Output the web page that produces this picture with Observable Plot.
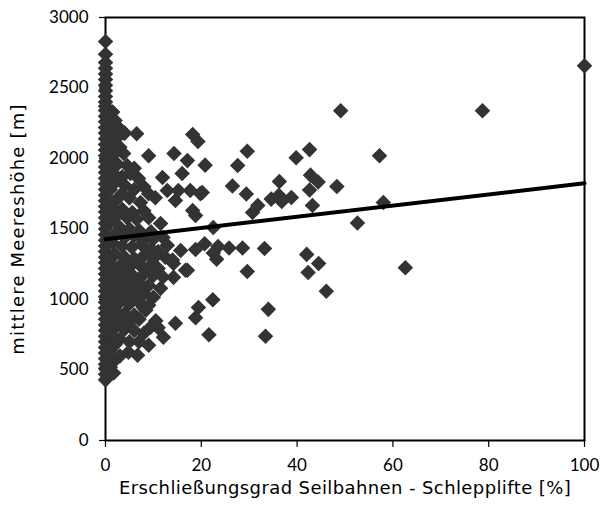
<!DOCTYPE html>
<html><head><meta charset="utf-8">
<script src="https://cdn.jsdelivr.net/npm/d3@7"></script>
<script src="https://cdn.jsdelivr.net/npm/@observablehq/plot@0.6"></script>
<style>body{margin:0;background:#fff}</style>
</head><body><div id="chart"></div>
<script>
// Tick labels and axis titles
const xTicks = [0, 20, 40, 60, 80, 100];
const yTicks = [0, 500, 1000, 1500, 2000, 2500, 3000];
const xTitle = "Erschließungsgrad Seilbahnen - Schlepplifte [%]";
const yTitle = "mittlere Meereshöhe [m]";

// Resorts with 0 % share (elevation in m)
const saeuleHoehe = [430,470,510,540,580,620,660,700,740,780,820,860,900,940,980,1020,1060,1100,1140,1180,1220,1260,1300,1340,1380,1420,1460,1500,1540,1580,1620,1660,1700,1740,1780,1820,1860,1900,1940,1980,2020,2060,2100,2140,2180,2220,2260,2300,2340,2370,2400,2440,2480,2520,2560,2600,2640,2680,2740,2830];

// Dense core [share %, elevation m]
const kern = [
[1.5,2330],[2,2270],[1,2200],[3,2210],[2.5,2150],[4,2180],[6.5,2176],[3.8,2183],
[1.5,2100],[3,2080],[2,2040],[3.8,2035],[9,2020],
[1,1990],[2.5,1960],[4.5,1950],[6,1930],[1.5,1900],[5.2,1893],[3.5,1870],[6.9,1858],
[2,1830],[4,1810],[1,1780],[3.5,1751],[6,1780],[8,1800],[10.4,1722],[5,1720],[2.1,1702],[7.3,1688],[9,1750],
[1.5,1650],[3.5,1640],[5.6,1617],[8,1630],[2.5,1600],[4.5,1580],[6.5,1570],[9,1580],[11.5,1539],[1,1550],
[3,1510],[5,1500],[7,1490],[9.5,1480],[2,1460],[4,1440],[6,1450],[8,1420],[10,1430],[12,1440],
[1.5,1400],[3.5,1380],[5.5,1370],[7.5,1390],[9.5,1360],[12.9,1384],[11,1340],[15.7,1348],
[2,1320],[4,1300],[6,1290],[8,1310],[10,1290],[12.5,1300],[14,1280],[1,1250],[3,1240],[5,1230],[7,1250],[9,1230],[11,1220],[14.2,1256],
[2,1180],[4,1170],[6,1160],[8,1180],[10,1170],[12,1160],[16.7,1207],[14.2,1157],[1,1120],[3,1110],[5,1100],[7,1120],[9,1100],[11.5,1079],[6.3,1079],
[2,1050],[4,1040],[6,1030],[8,1040],[10,1016],[1,990],[3,980],[5,970],[7,980],[9,960],[7.9,944],
[2,920],[4,900],[6,890],[8.4,924],[1,860],[3,850],[5,840],[7,860],[9.4,803],[2,800],[4,790],[6,780],[8,760],[12.1,732],[11,800],[10.5,850],
[1.5,740],[3,720],[5,700],[7,700],[9,676],[2,680],[4.8,626],[6.7,605],[1,640],[3,600],[1.7,560],[1,520],[1.7,478]
];

// Scattered resorts [share %, elevation m]
const streu = [
[18.2,2170],[19.3,2120],[14.3,2035],[17.1,1985],[20.8,1953],[16,1893],[11.9,1865],[20.2,1759],[17.7,1773],[15.2,1773],[12.9,1773],[14.6,1702],[18.2,1631],[18.8,1596],[19.8,1751],
[29.6,2052],[27.6,1950],[26.5,1805],[29.4,1748],[39.8,2006],[42.6,2063],[57.2,2020],[36.3,1837],[42.8,1882],[44.4,1833],[48.3,1801],[42.6,1776],[43.2,1667],[58,1688],[31.8,1667],[30.7,1617],[34.6,1712],[36.8,1695],[38.8,1723],[36.2,1740],[52.6,1543],[22.5,1511],
[20.7,1395],[23.5,1376],[25.8,1365],[28.6,1365],[22.5,1330],[23.2,1285],[33.2,1362],[18.8,1355],[17.1,1207],[29.6,1199],[42,1320],[44.5,1256],[42.3,1192],[46.1,1058],[62.6,1225],
[22.4,998],[34,930],[19.4,944],[18.8,870],[14.6,832],[21.6,750],[33.4,739],
[49.1,2339],[78.7,2339],[100,2657]
];

// Linear trend endpoints
const trendX = [0, 100];
const trendY = [1428, 1824];

const points = [
  ...saeuleHoehe.map(h => ({x: 0, y: h})),
  ...kern.map(([x, y]) => ({x, y})),
  ...streu.map(([x, y]) => ({x, y}))
];
const trend = trendX.map((x, i) => ({x, y: trendY[i]}));

const tickFont = "Lato, 'DejaVu Sans', sans-serif";
const titleFont = "'DejaVu Sans', sans-serif";
const chart = Plot.plot({
  width: 612, height: 515,
  marginLeft: 105, marginRight: 28, marginTop: 17, marginBottom: 75,
  style: {fontFamily: tickFont, fontSize: "17px", color: "#000", background: "#fff", overflow: "visible"},
  x: {domain: [0, 100], ticks: xTicks},
  y: {domain: [0, 3000], ticks: yTicks},
  marks: [
    Plot.axisX({ticks: xTicks, tickFormat: d => String(d), tickSize: 7, tickPadding: 11, stroke: "#000", strokeWidth: 1.2, fontSize: 17, label: null}),
    Plot.axisY({ticks: yTicks, tickFormat: d => String(d), tickSize: 6, tickPadding: 11, stroke: "#000", strokeWidth: 1.2, fontSize: 17, label: null}),
    Plot.text([xTitle], {text: d => d, frameAnchor: "bottom", dy: 53, textAnchor: "middle", fontFamily: titleFont, fontSize: 18, fill: "#000"}),
    Plot.text([yTitle], {text: d => d, frameAnchor: "left", dx: -87, rotate: -90, textAnchor: "middle", fontFamily: titleFont, fontSize: 18, fill: "#000"}),
    Plot.frame({stroke: "#000", strokeWidth: 2}),
    Plot.dot(points, {x: "x", y: "y", r: 7, symbol: "diamond2", fill: "#333", stroke: null, clip: false}),
    Plot.line(trend, {x: "x", y: "y", stroke: "#000", strokeWidth: 4})
  ]
});
chart.querySelectorAll("text").forEach(t => {
  if (t.textContent === xTitle) t.style.letterSpacing = "0.4px";
  if (t.textContent === yTitle) t.style.letterSpacing = "1.2px";
});
document.getElementById("chart").appendChild(chart);
</script></body></html>
